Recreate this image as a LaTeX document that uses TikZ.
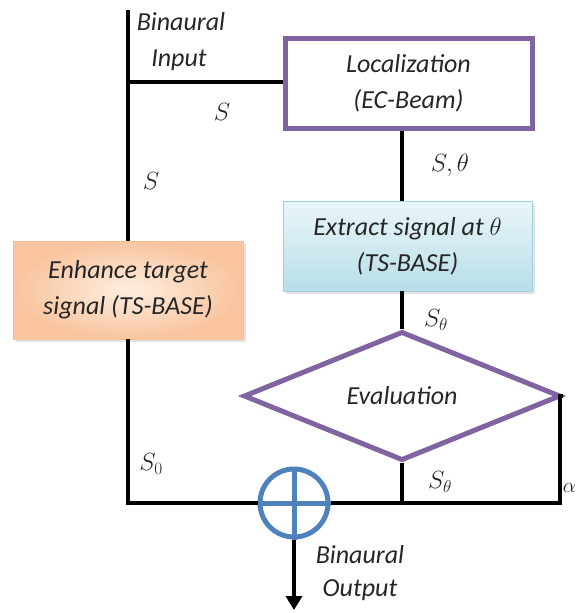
\documentclass[tikz,border=0pt]{standalone}
\usepackage{fontspec}
\setmainfont{Carlito}
\usetikzlibrary{shapes.geometric,shadows,arrows.meta}
\definecolor{purp}{HTML}{8064A2}
\definecolor{bluec}{HTML}{4F81BD}
\definecolor{txt}{HTML}{262626}
\begin{document}
\begin{tikzpicture}[x=1pt,y=-1pt,
  lbl/.style={font=\fontsize{26}{36}\selectfont\itshape, text=txt, align=center, inner sep=0},
  mlbl/.style={font=\fontsize{25}{30}\selectfont, text=txt, inner sep=0},
  wire/.style={line width=4pt, black},
  purpbox/.style={draw=purp, line width=5pt, fill=white, inner sep=0},
  enhbox/.style={draw={rgb,255:red,246;green,190;blue,150}, line width=0.8pt, inner sep=0, shading=radial, inner color={rgb,255:red,254;green,238;blue,224}, outer color={rgb,255:red,249;green,196;blue,158}, drop shadow={shadow xshift=3pt, shadow yshift=-3pt, fill=black!22}},
  extbox/.style={draw={rgb,255:red,160;green,210;blue,225}, line width=0.8pt, inner sep=0, top color={rgb,255:red,234;green,246;blue,249}, bottom color={rgb,255:red,184;green,222;blue,232}, drop shadow={shadow xshift=3pt, shadow yshift=-3pt, fill=black!22}}
]
\useasboundingbox (0,0) rectangle (576,613);

% nodes
\node[purpbox, minimum width=247pt, minimum height=90pt, lbl] (loc) at (408.5,83) {Localization\\(EC-Beam)};
\node[extbox, minimum width=249pt, minimum height=90pt, lbl] (ext) at (407.5,246) {Extract signal at $\theta$\\(TS-BASE)};
\node[enhbox, minimum width=230pt, minimum height=98pt, lbl] (enh) at (128,290) {Enhance target\\signal (TS-BASE)};
\node[purpbox, diamond, minimum width=317pt, minimum height=113pt, lbl] (dia) at (402,396) {Evaluation};
\node[circle, draw=bluec, line width=5pt, minimum size=68pt, inner sep=0] (add) at (294,503) {};

\coordinate (intop) at (128,10);
\coordinate (injn) at (128,82);
\coordinate (bl) at (128,503);
\coordinate (br) at (560,503);
\coordinate (out) at (294,610);

% connectors
\draw[wire] (intop) -- (enh.north);
\draw[wire] (injn) -- (injn -| loc.west);
\draw[wire] (loc.south -| dia.north) -- (ext.north -| dia.north);
\draw[wire] (ext.south -| dia.north) -- (dia.north);
\draw[wire] (enh.south) -- (bl) -- (add.west);
\draw[wire] (add.east) -- (br) -- (br |- dia.east) -- (dia.east);
\draw[wire] (dia.south) -- (dia.south |- br);
\draw[wire, -{Triangle[length=14pt,width=16pt]}] (add.south) -- (out);
\draw[bluec, line width=5pt] (add.north) -- (add.south) (add.west) -- (add.east);

% labels
\node[lbl] (l1) at (181,22) {Binaural};
\node[lbl] (l2) at (179,60) {Input};
\node[mlbl] (l3) at (222,112) {$S$};
\node[mlbl] (l4) at (151,181) {$S$};
\node[mlbl] (l5) at (450,165) {$S,\theta$};
\node[mlbl] (l6) at (436,320) {$S_\theta$};
\node[mlbl] (l7) at (151,464) {$S_0$};
\node[mlbl] (l8) at (440,482) {$S_\theta$};
\node[mlbl, anchor=east, font=\fontsize{20}{24}\selectfont] (l9) at (576,488) {$\alpha$};
\node[lbl] (l10) at (360,555) {Binaural};
\node[lbl] (l11) at (360,590) {Output};
\end{tikzpicture}
\end{document}
